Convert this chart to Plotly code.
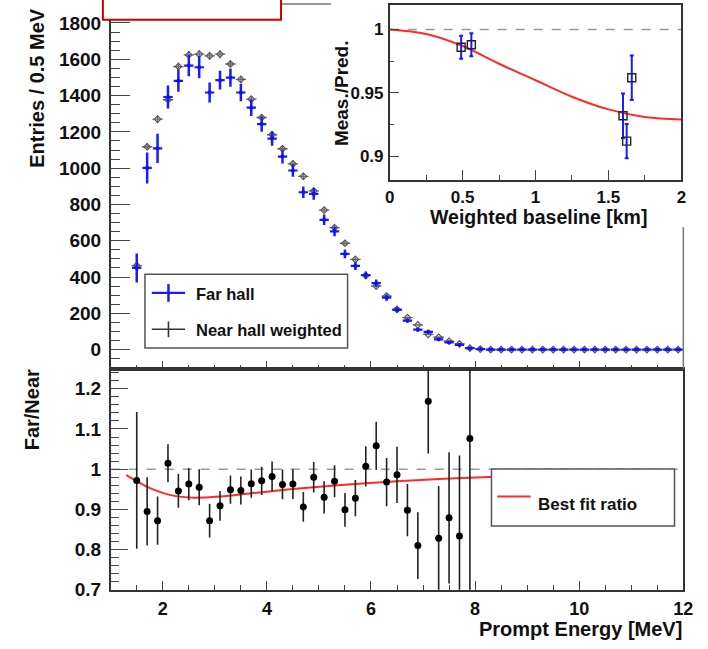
import plotly.graph_objects as go

W, H = 708, 649

# ---------------- data ----------------
energy = [1.5, 1.7, 1.9, 2.1, 2.3, 2.5, 2.7, 2.9, 3.1, 3.3,
          3.5, 3.7, 3.9, 4.1, 4.3, 4.5, 4.7, 4.9, 5.1, 5.3,
          5.5, 5.7, 5.9, 6.1, 6.3, 6.5, 6.7, 6.9, 7.1, 7.3,
          7.5, 7.7, 7.9, 8.1, 8.3, 8.5, 8.7, 8.9, 9.1, 9.3,
          9.5, 9.7, 9.9, 10.1, 10.3, 10.5, 10.7, 10.9, 11.1, 11.3,
          11.5, 11.7, 11.9]

far_hall = [450, 1001, 1109, 1392, 1481, 1565, 1556, 1417, 1485, 1499,
            1417, 1333, 1243, 1163, 1064, 987, 867, 858, 715, 652,
            527, 461, 411, 366, 286, 219, 160, 110, 98, 56,
            40, 26, 8, 3, 0, 0, 0, 0, 0, 0,
            0, 0, 0, 0, 0, 0, 0, 0, 0, 0,
            0, 0, 0]
far_err = [80, 85, 80, 63, 60, 58, 60, 55, 52, 50,
           48, 45, 42, 40, 38, 35, 32, 32, 29, 27,
           24, 22, 20, 20, 17, 15, 12, 10, 11, 8,
           7, 5, 3, 2, 0, 0, 0, 0, 0, 0,
           0, 0, 0, 0, 0, 0, 0, 0, 0, 0,
           0, 0, 0]

near_hall = [463, 1118, 1270, 1377, 1560, 1624, 1628, 1619, 1628, 1574,
             1489, 1380, 1279, 1184, 1107, 1024, 955, 875, 769, 672,
             586, 497, 408, 350, 295, 222, 176, 136, 84, 68,
             46, 31, 8, 3, 0, 0, 0, 0, 0, 0,
             0, 0, 0, 0, 0, 0, 0, 0, 0, 0,
             0, 0, 0]
near_err = [15, 20, 22, 22, 22, 22, 22, 22, 22, 20,
            20, 18, 18, 17, 16, 15, 15, 14, 13, 12,
            12, 11, 10, 9, 8, 7, 6, 6, 5, 4,
            3, 3, 2, 1, 0, 0, 0, 0, 0, 0,
            0, 0, 0, 0, 0, 0, 0, 0, 0, 0,
            0, 0, 0]

ratio_energy = energy[:33]
ratio = [0.972, 0.895, 0.872, 1.015, 0.946, 0.963, 0.955, 0.872, 0.909, 0.949,
         0.947, 0.964, 0.971, 0.982, 0.962, 0.963, 0.906, 0.980, 0.930, 0.970,
         0.899, 0.928, 1.007, 1.058, 0.968, 0.986, 0.898, 0.810, 1.169, 0.828,
         0.879, 0.834, 1.076]
ratio_err = [0.17, 0.085, 0.06, 0.047, 0.042, 0.04, 0.045, 0.042, 0.037, 0.035,
             0.035, 0.035, 0.035, 0.037, 0.037, 0.037, 0.037, 0.038, 0.04, 0.04,
             0.042, 0.045, 0.05, 0.06, 0.06, 0.07, 0.065, 0.083, 0.13, 0.13,
             0.163, 0.2, 0.4]

fit_energy = [1.3, 1.5, 1.7, 2.0, 2.25, 2.6, 3.1, 3.7, 4.3, 4.9, 5.7, 6.5, 7.4, 8.4]
fit_ratio = [0.985, 0.970, 0.956, 0.941, 0.933, 0.929, 0.932, 0.940, 0.948,
             0.955, 0.963, 0.970, 0.976, 0.981]

baseline_curve = [0.0, 0.25, 0.5, 0.75, 1.0, 1.25, 1.5, 1.75, 2.0]
meas_pred_curve = [1.0, 0.9965, 0.987, 0.973, 0.960, 0.947, 0.937, 0.931, 0.929]

hall_baseline = [0.49, 0.56, 1.60, 1.625, 1.66]
hall_ratio = [0.986, 0.988, 0.932, 0.912, 0.962]
hall_err = [0.009, 0.009, 0.0175, 0.0135, 0.0175]

y_ticks_inset = [0.9, 0.95, 1.0]
y_ticktext_inset = ["0.9", "0.95", "1"]

# ---------------- helpers ----------------
def px(x):
    return x / W

def py(y):
    return 1 - y / H

FONT = "Liberation Sans, Arial, Helvetica, sans-serif"
TXT = "#111111"
AX = "#333333"

def tf(size):
    return dict(family=FONT, size=size, color=TXT, weight="bold")

fig = go.Figure()

# upper panel: spectra
fig.add_trace(go.Scatter(
    x=energy, y=near_hall, mode="markers", xaxis="x", yaxis="y",
    marker=dict(symbol="diamond-open", size=5, color="#555555", line=dict(width=1.2)),
    error_y=dict(type="data", array=near_err, color="#666666", thickness=1.3, width=0),
    error_x=dict(type="constant", value=0.1, color="#666666", thickness=1.3, width=0),
    showlegend=False))
fig.add_trace(go.Scatter(
    x=energy, y=far_hall, mode="markers", xaxis="x", yaxis="y",
    marker=dict(symbol="circle", size=4, color="#1010f0"),
    error_y=dict(type="data", array=far_err, color="#1a1aff", thickness=2.5, width=0),
    error_x=dict(type="constant", value=0.09, color="#1a1aff", thickness=2.2, width=0),
    showlegend=False))

# lower panel: ratio
fig.add_trace(go.Scatter(
    x=fit_energy, y=fit_ratio, mode="lines", xaxis="x2", yaxis="y2",
    line=dict(color="#ff2a2a", width=2, shape="spline"), showlegend=False))
fig.add_trace(go.Scatter(
    x=ratio_energy, y=ratio, mode="markers", xaxis="x2", yaxis="y2",
    marker=dict(symbol="circle", size=7, color="#000000"),
    error_y=dict(type="data", array=ratio_err, color="#222222", thickness=1.6, width=0),
    showlegend=False))

# inset
fig.add_trace(go.Scatter(
    x=baseline_curve, y=meas_pred_curve, mode="lines", xaxis="x3", yaxis="y3",
    line=dict(color="#ff2a2a", width=2, shape="spline"), showlegend=False))
fig.add_trace(go.Scatter(
    x=hall_baseline, y=hall_ratio, mode="markers", xaxis="x3", yaxis="y3",
    marker=dict(symbol="square-open", size=8, color="#222222", line=dict(width=1.4)),
    error_y=dict(type="data", array=hall_err, color="#1a1aff", thickness=2, width=2),
    showlegend=False))

common_ax = dict(showgrid=False, zeroline=False, showline=True, linecolor=AX, linewidth=1.5,
                 ticks="inside", tickcolor="#444444", tickwidth=1.2)

fig.update_layout(
    width=W, height=H, autosize=False, margin=dict(l=0, r=0, t=0, b=0),
    paper_bgcolor="white", plot_bgcolor="white",
    font=dict(family=FONT, color=TXT),
    xaxis=dict(common_ax, domain=[px(108), px(693)], range=[1, 12], anchor="y",
               tick0=0, dtick=2, ticklen=8, showticklabels=False, mirror=False,
               minor=dict(dtick=0.5, tick0=0, ticklen=4, ticks="inside", tickcolor="#444444")),
    yaxis=dict(common_ax, domain=[py(375), py(4)], range=[-105, 1905], anchor="x",
               tick0=0, dtick=200, ticklen=20, tickfont=tf(19), mirror=False,
               ticklabelstandoff=4,
               minor=dict(dtick=50, tick0=0, ticklen=10, ticks="inside", tickcolor="#444444")),
    xaxis2=dict(common_ax, domain=[px(108), px(693)], range=[1, 12], anchor="y2",
                tick0=0, dtick=2, ticklen=9, tickfont=tf(18), mirror=True,
                ticklabelstandoff=2,
                minor=dict(dtick=0.5, tick0=0, ticklen=5, ticks="inside", tickcolor="#444444")),
    yaxis2=dict(common_ax, domain=[py(600), py(375)], range=[0.7, 1.25], anchor="x2",
                tick0=0.7, dtick=0.1, ticklen=18, tickfont=tf(19), mirror=True,
                ticklabelstandoff=4,
                minor=dict(dtick=0.02, tick0=0.7, ticklen=9, ticks="inside", tickcolor="#444444")),
    xaxis3=dict(common_ax, domain=[px(393), px(691)], range=[0, 2], anchor="y3",
                tick0=0, dtick=0.5, ticklen=10, tickfont=tf(17), mirror=True,
                ticklabelstandoff=1,
                minor=dict(dtick=0.25, tick0=0, ticklen=5, ticks="inside", tickcolor="#444444")),
    yaxis3=dict(common_ax, domain=[py(183), py(5)], range=[0.8814, 1.0194], anchor="x3",
                tickvals=y_ticks_inset, ticktext=y_ticktext_inset, ticklen=10,
                tickfont=tf(17), mirror=True, ticklabelstandoff=1,
                minor=dict(dtick=0.025, tick0=0.9, ticklen=5, ticks="inside", tickcolor="#444444")),
)

shapes = []
# dashed unity lines
shapes.append(dict(type="line", xref="x2", yref="y2", x0=1, x1=12, y0=1, y1=1,
                   line=dict(color="#999999", width=1.5, dash="dash"), layer="below"))
shapes.append(dict(type="line", xref="x3", yref="y3", x0=0, x1=2, y0=1, y1=1,
                   line=dict(color="#999999", width=1.3, dash="dash"), layer="below"))
# upper panel frame pieces (top and right, partly hidden by inset pad)
shapes.append(dict(type="line", xref="paper", yref="paper", x0=px(108), x1=px(333),
                   y0=py(4), y1=py(4), line=dict(color="#777777", width=1.5)))
shapes.append(dict(type="line", xref="paper", yref="paper", x0=px(693), x1=px(693),
                   y0=py(231), y1=py(375), line=dict(color="#777777", width=1.5)))
# red box at top-left
shapes.append(dict(type="rect", xref="paper", yref="paper", x0=px(100), x1=px(282),
                   y0=py(20), y1=py(-10), line=dict(color="#cc0000", width=2),
                   fillcolor="white", layer="above"))
# legend boxes
shapes.append(dict(type="rect", xref="paper", yref="paper", x0=px(143), x1=px(350),
                   y0=py(354), y1=py(279), line=dict(color="#555555", width=1.5),
                   fillcolor="white", layer="above"))
shapes.append(dict(type="rect", xref="paper", yref="paper", x0=px(497), x1=px(684),
                   y0=py(535), y1=py(477), line=dict(color="#555555", width=1.5),
                   fillcolor="white", layer="above"))
# legend glyphs
shapes.append(dict(type="line", xref="paper", yref="paper", x0=px(150), x1=px(184),
                   y0=py(298), y1=py(298), line=dict(color="#1a1aff", width=2.2), layer="above"))
shapes.append(dict(type="line", xref="paper", yref="paper", x0=px(167), x1=px(167),
                   y0=py(289), y1=py(307), line=dict(color="#1a1aff", width=2.5), layer="above"))
shapes.append(dict(type="line", xref="paper", yref="paper", x0=px(150), x1=px(184),
                   y0=py(335), y1=py(335), line=dict(color="#333333", width=1.6), layer="above"))
shapes.append(dict(type="line", xref="paper", yref="paper", x0=px(167), x1=px(167),
                   y0=py(327), y1=py(343), line=dict(color="#333333", width=1.6), layer="above"))
shapes.append(dict(type="line", xref="paper", yref="paper", x0=px(503), x1=px(537),
                   y0=py(505), y1=py(505), line=dict(color="#ff2a2a", width=2), layer="above"))
fig.update_layout(shapes=shapes)

anns = []
def ann(text, x, y, size, xanchor="center", yanchor="middle", angle=0, color=TXT):
    anns.append(dict(text=text, x=px(x), y=py(y), xref="paper", yref="paper",
                     xanchor=xanchor, yanchor=yanchor, textangle=angle, showarrow=False,
                     font=dict(family=FONT, size=size, color=color, weight="bold")))

ann("Entries / 0.5 MeV", 33, 89, 20, angle=-90)
ann("Far/Near", 28, 417, 20, angle=-90)
ann("Prompt Energy [MeV]", 694, 640, 20, xanchor="right")
ann("Meas./Pred.", 344, 95, 19, angle=-90)
ann("Weighted baseline [km]", 545, 221, 19.5)
ann("Far hall", 193, 299, 16.5, xanchor="left")
ann("Near hall weighted", 193, 336, 16.5, xanchor="left")
ann("Best fit ratio", 543, 513, 17, xanchor="left")
ann("Daya Bay", 233, 2, 18, yanchor="bottom", color="#dd2222")
fig.update_layout(annotations=anns)

fig.write_html(
    "out.html",
    config={"responsive": False, "displayModeBar": False},
    post_script="document.documentElement.style.margin='0';document.documentElement.style.overflow='hidden';"
                "document.body.style.margin='0';document.body.style.overflow='hidden';",
)
